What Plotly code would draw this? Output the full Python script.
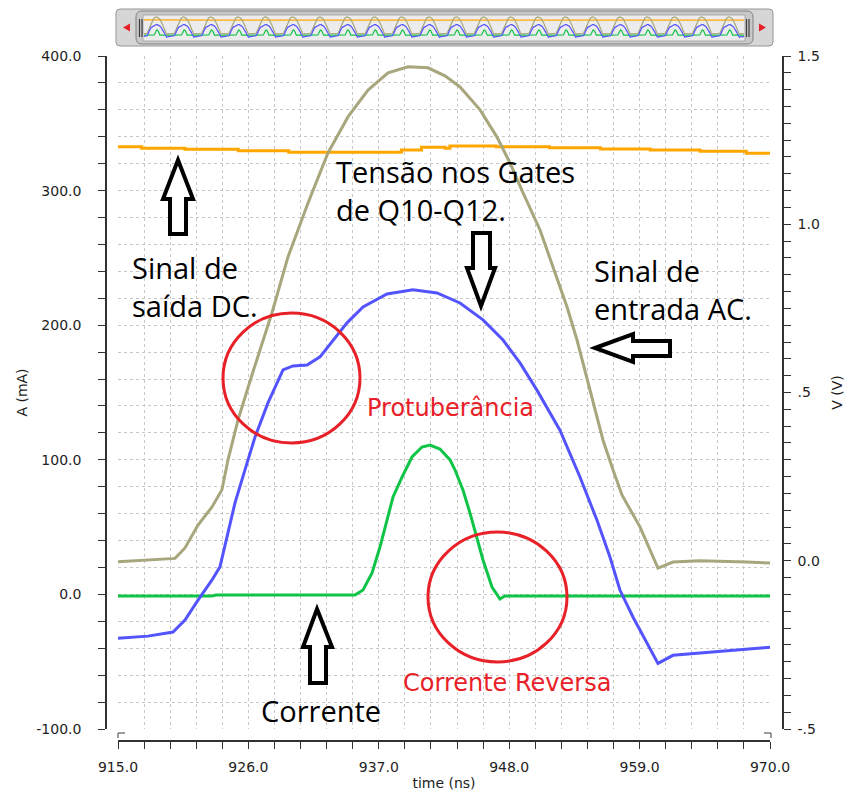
import plotly.graph_objects as go

# ---------------- data ----------------
# Sinal de entrada AC (khaki, right axis, V)
ac_t = [915.0, 919.81, 920.65, 921.75, 922.93, 923.77, 924.28, 925.12, 926.30, 927.99,
        929.34, 931.03, 932.71, 934.40, 936.09, 937.78, 939.46, 941.15, 942.58, 943.85,
        945.54, 946.97, 948.07, 949.17, 950.60, 951.70, 952.88, 953.72, 954.40, 955.07,
        955.91, 956.76, 957.52, 959.04, 960.55, 961.82, 964.09, 968.06, 970.0]
ac_v = [-0.003, 0.007, 0.038, 0.106, 0.160, 0.211, 0.300, 0.418, 0.552, 0.737,
        0.903, 1.063, 1.212, 1.319, 1.399, 1.450, 1.468, 1.465, 1.441, 1.408,
        1.340, 1.259, 1.182, 1.093, 0.983, 0.873, 0.754, 0.656, 0.561, 0.469,
        0.359, 0.270, 0.195, 0.100, -0.022, -0.004, 0.000, -0.004, -0.007]

# Tensao nos Gates de Q10-Q12 (blue, right axis, V)
gate_t = [915.0, 917.53, 919.64, 920.65, 921.75, 922.93, 923.60, 924.19, 924.87, 925.71,
          926.56, 927.65, 928.92, 929.76, 930.95, 932.04, 933.14, 934.32, 935.67, 937.69,
          939.88, 941.91, 943.85, 945.79, 947.48, 948.91, 950.34, 952.28, 953.97, 955.40,
          956.50, 957.34, 958.44, 959.62, 960.55, 961.82, 964.68, 967.47, 970.0]
gate_v = [-0.230, -0.224, -0.212, -0.176, -0.117, -0.057, -0.018, 0.071, 0.172, 0.270,
          0.368, 0.469, 0.567, 0.579, 0.582, 0.606, 0.656, 0.707, 0.754, 0.793,
          0.805, 0.796, 0.766, 0.716, 0.656, 0.588, 0.507, 0.388, 0.249, 0.121,
          0.011, -0.087, -0.167, -0.245, -0.305, -0.281, -0.272, -0.263, -0.257]

# Corrente (green, left axis, mA)
cur_t = [915.0, 922.93, 923.27, 934.99, 935.67, 936.43, 937.10, 937.69, 938.20, 938.96,
         939.80, 940.64, 941.32, 942.16, 943.01, 943.43, 944.10, 944.69, 945.28, 945.79,
         946.55, 947.22, 947.64, 970.0]
cur_ma = [-1.2, -1.2, -0.4, -0.4, 3.3, 15.9, 35.2, 55.3, 72.4, 87.2,
          102.1, 109.5, 111.0, 108.0, 99.9, 92.4, 77.6, 60.5, 42.7, 25.6,
          5.5, -3.4, -1.2, -1.2]

# Sinal de saida DC (orange, left axis, mA)
dc_t = [915.0, 917.0, 920.65, 925.15, 929.4, 938.9, 940.6, 942.6, 943.0, 946.9,
        951.4, 955.7, 959.9, 964.1, 968.0, 970.0]
dc_ma = [332.6, 331.4, 330.7, 329.6, 328.5, 330.2, 332.2, 331.4, 333.1, 332.6,
         331.9, 330.9, 330.2, 329.2, 327.7, 327.7]

x_ticks = [915.0, 926.0, 937.0, 948.0, 959.0, 970.0]
left_ticks = [-100.0, 0.0, 100.0, 200.0, 300.0, 400.0]
right_vals = [-0.5, 0.0, 0.5, 1.0, 1.5]
right_text = ["-.5", "0.0", ".5", "1.0", "1.5"]

KHAKI = "rgb(168,166,124)"
BLUE = "rgb(84,84,255)"
GREEN = "rgb(16,196,72)"
ORANGE = "rgb(255,166,0)"
RED = "rgb(232,32,40)"

W, H = 853, 803
PL, PR, PT, PB = 118, 770, 56, 729       # plot area (pixels)
AXL, AXR, AXB = 106, 783, 741            # offset axis lines
MT = 8

def px2t(px):
    return 915 + (px - PL) * 55.0 / (PR - PL)

def py2ma(py):
    return 400 - (py - PT) * 500.0 / (PB - PT)

def pxp(px):
    return (px - AXL) / float(AXR - AXL)

def pyp(py):
    return (AXB - py) / float(AXB - MT)

fig = go.Figure()

fig.add_trace(go.Scatter(x=ac_t, y=ac_v, yaxis="y2", mode="lines",
                         line=dict(color=KHAKI, width=3), name="AC"))
fig.add_trace(go.Scatter(x=gate_t, y=gate_v, yaxis="y2", mode="lines",
                         line=dict(color=BLUE, width=3), name="Gates"))
fig.add_trace(go.Scatter(x=cur_t, y=cur_ma, yaxis="y", mode="lines",
                         line=dict(color=GREEN, width=3), name="Corrente"))
fig.add_trace(go.Scatter(x=dc_t, y=dc_ma, yaxis="y", mode="lines",
                         line=dict(color=ORANGE, width=3, shape="hv"), name="DC"))

# ---- overview strip (tiled copies of the same data) ----
NREP = 22
span = 55.0
for tt, vv, col, ax in [(ac_t, ac_v, KHAKI, "y4"), (gate_t, gate_v, BLUE, "y4"),
                        (cur_t, cur_ma, GREEN, "y3"), (dc_t, dc_ma, ORANGE, "y3")]:
    xs, ys = [], []
    for k in range(NREP):
        xs += [t - 915 + k * span for t in tt]
        ys += list(vv)
    fig.add_trace(go.Scatter(x=xs, y=ys, xaxis="x3", yaxis=ax, mode="lines",
                             line=dict(color=col, width=1.2), hoverinfo="skip"))

shapes = []

def rrect(x0, y0, x1, y1, r):
    return (f"M {pxp(x0 + r)},{pyp(y0)} L {pxp(x1 - r)},{pyp(y0)} "
            f"Q {pxp(x1)},{pyp(y0)} {pxp(x1)},{pyp(y0 + r)} L {pxp(x1)},{pyp(y1 - r)} "
            f"Q {pxp(x1)},{pyp(y1)} {pxp(x1 - r)},{pyp(y1)} L {pxp(x0 + r)},{pyp(y1)} "
            f"Q {pxp(x0)},{pyp(y1)} {pxp(x0)},{pyp(y1 - r)} L {pxp(x0)},{pyp(y0 + r)} "
            f"Q {pxp(x0)},{pyp(y0)} {pxp(x0 + r)},{pyp(y0)} Z")

shapes.append(dict(type="path", xref="paper", yref="paper", path=rrect(116, 9, 773, 46, 4),
                   fillcolor="rgb(214,214,214)", line=dict(color="rgb(150,150,150)", width=1), layer="below"))
shapes.append(dict(type="path", xref="paper", yref="paper", path=rrect(136, 11, 753, 44, 6),
                   fillcolor="rgb(200,200,200)", line=dict(color="rgb(130,130,130)", width=1), layer="below"))
shapes.append(dict(type="rect", xref="paper", yref="paper", x0=pxp(143), x1=pxp(745),
                   y0=pyp(41), y1=pyp(15), fillcolor="rgb(236,236,236)",
                   line=dict(color="rgb(170,170,170)", width=1), layer="below"))
shapes.append(dict(type="path", xref="paper", yref="paper",
                   path=f"M {pxp(123)},{pyp(27.5)} L {pxp(130)},{pyp(23.5)} L {pxp(130)},{pyp(31.5)} Z",
                   fillcolor=RED, line=dict(width=0)))
shapes.append(dict(type="path", xref="paper", yref="paper",
                   path=f"M {pxp(766)},{pyp(27.5)} L {pxp(759)},{pyp(23.5)} L {pxp(759)},{pyp(31.5)} Z",
                   fillcolor=RED, line=dict(width=0)))
for gx in [139.5, 142, 746.5, 749]:
    shapes.append(dict(type="line", xref="paper", yref="paper", x0=pxp(gx), x1=pxp(gx),
                       y0=pyp(19), y1=pyp(37), line=dict(color="rgb(60,60,60)", width=1.2)))

# red circles
shapes.append(dict(type="circle", xref="x", yref="y",
                   x0=px2t(223), x1=px2t(360), y0=py2ma(443), y1=py2ma(313),
                   line=dict(color=RED, width=3)))
shapes.append(dict(type="circle", xref="x", yref="y",
                   x0=px2t(428), x1=px2t(567), y0=py2ma(662), y1=py2ma(532),
                   line=dict(color=RED, width=3)))

def poly(pts):
    s = "M " + " L ".join(f"{px2t(a)},{py2ma(b)}" for a, b in pts) + " Z"
    return dict(type="path", xref="x", yref="y", path=s, fillcolor="white",
                line=dict(color="black", width=4))

shapes.append(poly([(178, 160), (193, 199), (186, 199), (186, 234), (170, 234), (170, 199), (163, 199)]))
shapes.append(poly([(481, 306), (495, 268), (490, 268), (490, 233), (473, 233), (473, 268), (467, 268)]))
shapes.append(poly([(595, 348), (633, 334), (633, 341), (670, 341), (670, 356), (633, 356), (633, 362)]))
shapes.append(poly([(317, 609), (332, 647), (326, 647), (326, 683), (310, 683), (310, 647), (303, 647)]))

shapes.append(dict(type="path", xref="paper", yref="paper",
                   path=f"M {pxp(118)},{pyp(738)} L {pxp(118)},{pyp(733)} L {pxp(125)},{pyp(733)}",
                   line=dict(color="rgb(60,60,60)", width=1)))
shapes.append(dict(type="path", xref="paper", yref="paper",
                   path=f"M {pxp(764)},{pyp(733)} L {pxp(771)},{pyp(733)} L {pxp(771)},{pyp(738)}",
                   line=dict(color="rgb(60,60,60)", width=1)))

BF = "Open Sans"
BS = 29
RS = 24
annotations = [
    dict(x=px2t(334), y=py2ma(190), xref="x", yref="y", xanchor="left", yanchor="middle",
         text="Tensão nos Gates<br>de Q10-Q12.", align="left", showarrow=False,
         font=dict(family=BF, size=BS, color="black")),
    dict(x=px2t(130), y=py2ma(286), xref="x", yref="y", xanchor="left", yanchor="middle",
         text="Sinal de<br>saída DC.", align="left", showarrow=False,
         font=dict(family=BF, size=BS, color="black")),
    dict(x=px2t(592), y=py2ma(289), xref="x", yref="y", xanchor="left", yanchor="middle",
         text="Sinal de<br>entrada AC.", align="left", showarrow=False,
         font=dict(family=BF, size=BS, color="black")),
    dict(x=px2t(321), y=py2ma(710), xref="x", yref="y", xanchor="center", yanchor="middle",
         text="Corrente", showarrow=False,
         font=dict(family=BF, size=BS, color="black")),
    dict(x=px2t(365), y=py2ma(408), xref="x", yref="y", xanchor="left", yanchor="middle",
         text="Protuberância", showarrow=False,
         font=dict(family="DejaVu Sans", size=RS, color=RED)),
    dict(x=px2t(401), y=py2ma(683), xref="x", yref="y", xanchor="left", yanchor="middle",
         text="Corrente Reversa", showarrow=False,
         font=dict(family="DejaVu Sans", size=RS, color=RED)),
]

TF = dict(family="DejaVu Sans", size=14, color="rgb(30,30,30)")
TTF = dict(family="DejaVu Sans", size=14, color="rgb(30,30,30)")
GRID = "rgb(200,200,200)"
AXC = "rgb(50,50,50)"

fig.update_layout(
    width=W, height=H,
    margin=dict(l=AXL, r=W - AXR, t=MT, b=H - AXB, autoexpand=False),
    paper_bgcolor="white", plot_bgcolor="white",
    showlegend=False,
    shapes=shapes, annotations=annotations,
    xaxis=dict(domain=[pxp(PL), pxp(PR)], anchor="free", position=0, automargin=False,
               range=[915, 970], tickmode="array", tickvals=x_ticks,
               ticktext=[f"{v:.1f}" for v in x_ticks],
               ticks="outside", ticklen=7, tickcolor=AXC, tickwidth=1,
               showline=True, linecolor=AXC, linewidth=1.5,
               showgrid=True, gridcolor=GRID, griddash="dot", gridwidth=1,
               zeroline=False, tickfont=TF, ticklabelstandoff=6,
               minor=dict(dtick=2.2, tick0=915, ticks="outside", ticklen=7, tickcolor=AXC,
                          showgrid=True, gridcolor=GRID, griddash="dot", gridwidth=1),
               title=dict(text="time (ns)", font=TTF, standoff=4)),
    yaxis=dict(domain=[pyp(PB), pyp(PT)], anchor="free", position=0, automargin=False,
               range=[-100, 400], tickmode="array", tickvals=left_ticks,
               ticktext=[f"{v:.1f}" for v in left_ticks],
               ticks="outside", ticklen=7, tickcolor=AXC,
               showline=True, linecolor=AXC, linewidth=1.5,
               showgrid=True, gridcolor=GRID, griddash="dot", gridwidth=1,
               zeroline=False, tickfont=TF, ticklabelstandoff=14,
               minor=dict(dtick=20, tick0=0, ticks="outside", ticklen=7, tickcolor=AXC,
                          showgrid=True, gridcolor=GRID, griddash="dot", gridwidth=1),
               title=dict(text="A (mA)", font=TTF, standoff=4)),
    yaxis2=dict(domain=[pyp(PB), pyp(PT)], anchor="free", position=1, overlaying="y", side="right",
                automargin=False,
                range=[-0.5, 1.5], tickmode="array", tickvals=right_vals, ticktext=right_text,
                ticks="outside", ticklen=7, tickcolor=AXC,
                showline=True, linecolor=AXC, linewidth=1.5,
                showgrid=False, zeroline=False, tickfont=TF, ticklabelstandoff=4,
                minor=dict(dtick=0.05, tick0=0, ticks="outside", ticklen=7, tickcolor=AXC, showgrid=False),
                title=dict(text="V (V)", font=TTF, standoff=12)),
    xaxis3=dict(domain=[pxp(144), pxp(744)], anchor="y3", range=[0, NREP * span],
                visible=False, fixedrange=True, automargin=False),
    yaxis3=dict(domain=[pyp(40), pyp(16)], anchor="x3", range=[-110, 420],
                visible=False, fixedrange=True, automargin=False),
    yaxis4=dict(domain=[pyp(40), pyp(16)], anchor="x3", overlaying="y3", range=[-0.55, 1.55],
                visible=False, fixedrange=True, automargin=False),
)

fig.write_html("out.html", config={"displayModeBar": False},
               post_script="document.body.style.margin='0';document.body.style.overflow='hidden';")
